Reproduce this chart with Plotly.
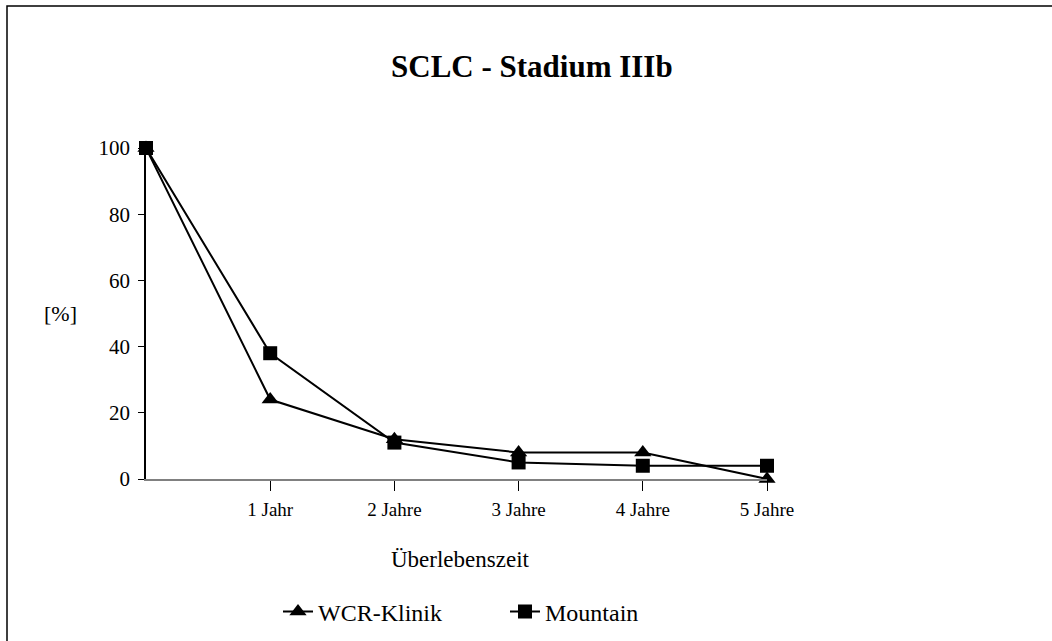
import plotly.graph_objects as go

# Survival over time, small-cell lung cancer, stage IIIb
x_pos = [0, 1, 2, 3, 4, 5]
tick_labels = ["1 Jahr", "2 Jahre", "3 Jahre", "4 Jahre", "5 Jahre"]
wcr_klinik = [100, 24, 12, 8, 8, 0]
mountain = [100, 38, 11, 5, 4, 4]

W, H = 1052, 641
L, R, T, B = 146, 1052 - 767, 148, 641 - 479
pw, ph = W - L - R, H - T - B

serif = "Liberation Serif"

fig = go.Figure()
fig.add_trace(go.Scatter(
    x=x_pos, y=wcr_klinik, name="WCR-Klinik", mode="lines+markers",
    line=dict(color="black", width=2),
    marker=dict(symbol="triangle-up", size=15, color="black"),
    cliponaxis=False, legend="legend",
))
fig.add_trace(go.Scatter(
    x=x_pos, y=mountain, name="Mountain", mode="lines+markers",
    line=dict(color="black", width=2),
    marker=dict(symbol="square", size=14, color="black"),
    cliponaxis=False, legend="legend2",
))

legend_common = dict(
    orientation="h", xanchor="left", yanchor="middle",
    xref="container", yref="container",
    y=1 - 612 / H,
    font=dict(family=serif, size=24, color="black"), itemwidth=30,
    bgcolor="rgba(0,0,0,0)",
)

fig.update_layout(
    width=W, height=H, autosize=False,
    margin=dict(l=L, r=R, t=T, b=B, autoexpand=False),
    paper_bgcolor="white", plot_bgcolor="white",
    font=dict(family=serif, color="black", size=18),
    showlegend=True,
    legend=dict(legend_common, x=278 / W),
    legend2=dict(legend_common, x=505 / W),
    xaxis=dict(
        range=[0, 5], tickvals=x_pos[1:], ticktext=tick_labels,
        showgrid=False, zeroline=False, showline=True,
        linecolor="#808080", linewidth=1.5,
        ticks="outside", ticklen=10, tickcolor="black", tickwidth=1,
        tickfont=dict(family=serif, size=19), ticklabelstandoff=2,
        fixedrange=True,
    ),
    yaxis=dict(
        range=[0, 100], tickvals=[0, 20, 40, 60, 80, 100],
        showgrid=False, zeroline=False, showline=True,
        linecolor="black", linewidth=1.5,
        ticks="outside", ticklen=6, tickcolor="black",
        tickfont=dict(family=serif, size=21), ticklabelstandoff=4,
        fixedrange=True,
    ),
    annotations=[
        dict(text="<b>SCLC - Stadium IIIb</b>", xref="paper", yref="paper",
             x=(532 - L) / pw, y=(479 - 66) / ph, showarrow=False,
             font=dict(family=serif, size=31), xanchor="center", yanchor="middle"),
        dict(text="[%]", xref="paper", yref="paper",
             x=(60 - L) / pw, y=(479 - 313) / ph, showarrow=False,
             font=dict(family=serif, size=22), xanchor="center", yanchor="middle"),
        dict(text="Überlebenszeit", xref="paper", yref="paper",
             x=(460 - L) / pw, y=-(559 - 479) / ph, showarrow=False,
             font=dict(family=serif, size=23), xanchor="center", yanchor="middle"),
    ],
    shapes=[
        dict(type="rect", xref="paper", yref="paper",
             x0=(7 - L) / pw, x1=(1100 - L) / pw,
             y0=-(700 - 479) / ph, y1=(479 - 6) / ph,
             line=dict(color="black", width=1.5), fillcolor="rgba(0,0,0,0)"),
    ],
)

fig.write_html("out.html")
